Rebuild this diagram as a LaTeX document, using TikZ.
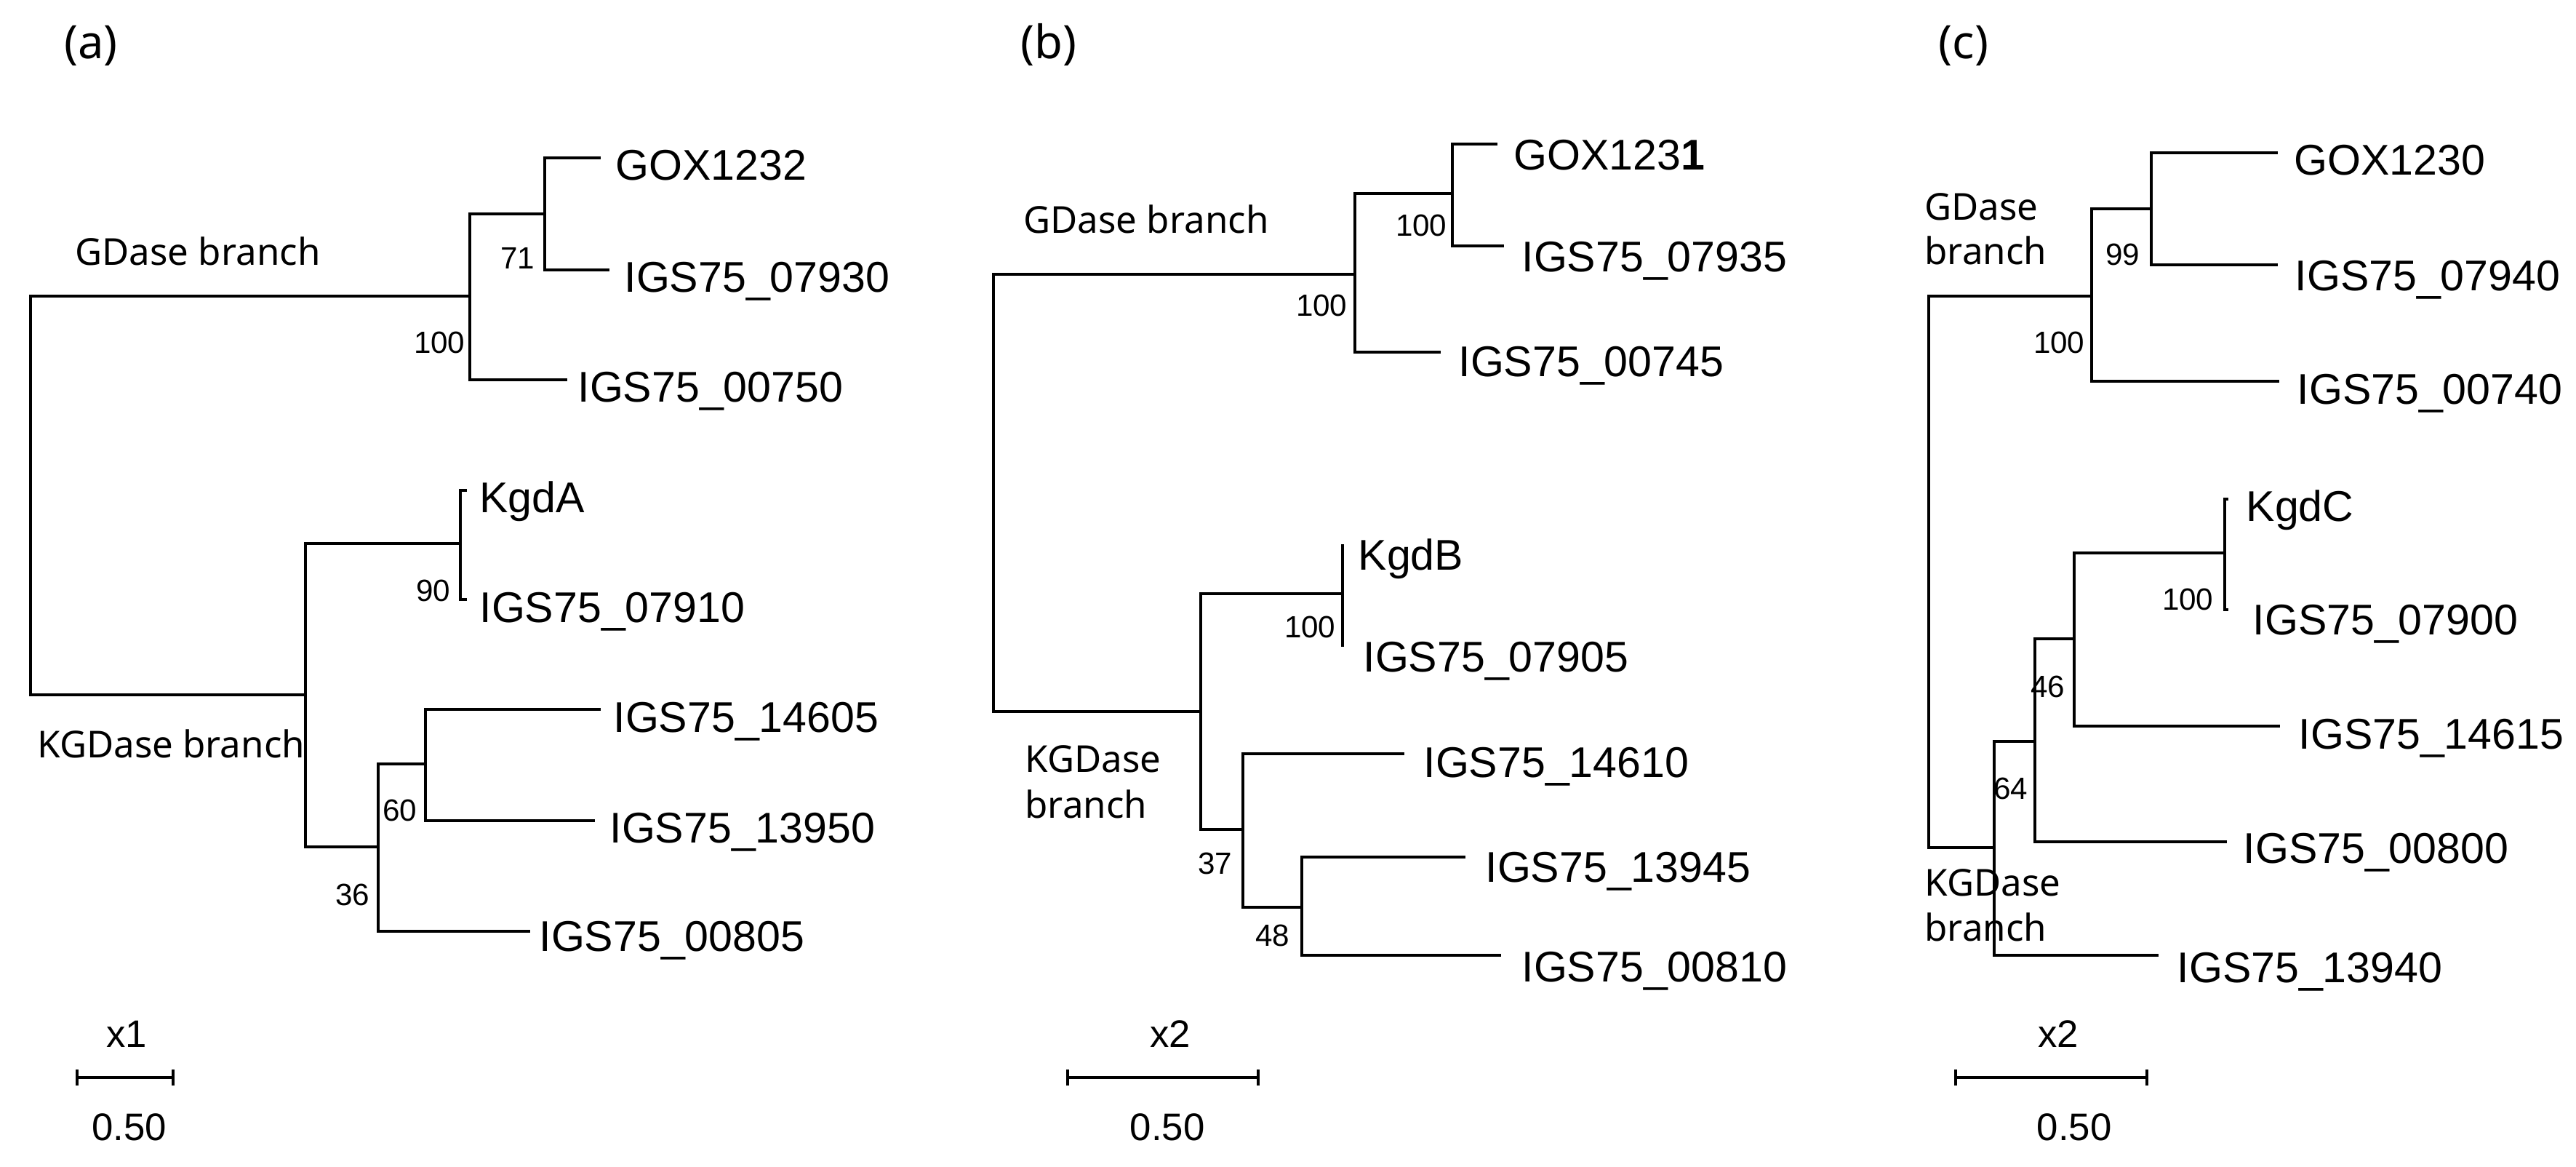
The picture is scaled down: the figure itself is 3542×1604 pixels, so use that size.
\documentclass[tikz,border=0pt]{standalone}
\usepackage{fontspec}
\setmainfont{Liberation Sans}
\newfontfamily\notof{Noto Sans}
\begin{document}
\begin{tikzpicture}[x=0.01cm,y=-0.01cm,line width=0.9pt,
  leaf/.style={anchor=base west,inner sep=0,font=\fontsize{16.8}{18}\selectfont},
  boot/.style={anchor=base east,inner sep=0,font=\fontsize{12}{14}\selectfont},
  br/.style={anchor=base west,inner sep=0,font=\notof\fontsize{14.5}{16}\selectfont},
  sc/.style={anchor=base,inner sep=0,font=\fontsize{15}{17}\selectfont},
  pl/.style={inner sep=0,font=\notof\fontsize{18}{20}\selectfont}]
\useasboundingbox (0,0) rectangle (3542,1604);
% ===== (a)
\node[pl] (la) at (125,63) {(a)};
\coordinate (aR) at (42,681);
\coordinate (aG) at (646,407); \coordinate (aK) at (420,955);
\coordinate (aG1) at (749,294);
\coordinate (aT1) at (826,217); \coordinate (aT2) at (838,371); \coordinate (aT3) at (780,522);
\coordinate (aK1) at (633,747); \coordinate (aK2) at (520,1164); \coordinate (aK3) at (585,1050);
\coordinate (aT4) at (642,674); \coordinate (aT5) at (642,824);
\coordinate (aT6) at (826,975); \coordinate (aT7) at (818,1128); \coordinate (aT8) at (729,1280);
\draw (aR) |- (aG); \draw (aR) |- (aK);
\draw (aG) |- (aG1); \draw (aG) |- (aT3);
\draw (aG1) |- (aT1); \draw (aG1) |- (aT2);
\draw (aK) |- (aK1); \draw (aK) |- (aK2);
\draw (aK1) |- (aT4); \draw (aK1) |- (aT5);
\draw (aK2) |- (aK3); \draw (aK2) |- (aT8);
\draw (aK3) |- (aT6); \draw (aK3) |- (aT7);
\node[leaf] (aL1) at (845,248) {GOX1232};
\node[leaf] (aL2) at (857,402) {IGS75\_07930};
\node[leaf] (aL3) at (793,553) {IGS75\_00750};
\node[leaf] (aL4) at (658,705) {KgdA};
\node[leaf] (aL5) at (658,856) {IGS75\_07910};
\node[leaf] (aL6) at (842,1007) {IGS75\_14605};
\node[leaf] (aL7) at (837,1158) {IGS75\_13950};
\node[leaf] (aL8) at (740,1307) {IGS75\_00805};
\node[boot] (aB1) at (737,370) {71};
\node[boot] (aB2) at (641,486) {100};
\node[boot] (aB3) at (621,827) {90};
\node[boot] (aB4) at (575,1129) {60};
\node[boot] (aB5) at (510,1244) {36};
\node[br] (aBr1) at (102,365) {GDase branch};
\node[br] (aBr2) at (50,1042) {KGDase branch};
\node[sc] (aX) at (174,1439) {x1};
\coordinate (aS1) at (106,1481); \coordinate (aS2) at (238,1481);
\draw (aS1) -- (aS2);
\draw ([yshift=-0.11cm]aS1) -- ([yshift=0.11cm]aS1);
\draw ([yshift=-0.11cm]aS2) -- ([yshift=0.11cm]aS2);
\node[sc] (aV) at (178,1567) {0.50};
% ===== (b)
\node[pl] (lb) at (1442,61) {(b)};
\coordinate (bR) at (1366,677);
\coordinate (bG) at (1863,377); \coordinate (bK) at (1651,978);
\coordinate (bG1) at (1997,266);
\coordinate (bT1) at (2059,198); \coordinate (bT2) at (2068,338); \coordinate (bT3) at (1981,484);
\coordinate (bK1) at (1846,816); \coordinate (bK2) at (1709,1140); \coordinate (bK3) at (1790,1247);
\coordinate (bT4) at (1846,748); \coordinate (bT5) at (1846,889);
\coordinate (bT6) at (1931,1036); \coordinate (bT7) at (2015,1178); \coordinate (bT8) at (2064,1313);
\draw (bR) |- (bG); \draw (bR) |- (bK);
\draw (bG) |- (bG1); \draw (bG) |- (bT3);
\draw (bG1) |- (bT1); \draw (bG1) |- (bT2);
\draw (bK) |- (bK1); \draw (bK) |- (bK2);
\draw (bK1) -- (bT4); \draw (bK1) -- (bT5);
\draw (bK2) |- (bT6); \draw (bK2) |- (bK3);
\draw (bK3) |- (bT7); \draw (bK3) |- (bT8);
\node[leaf] (bL1) at (2080,234) {GOX123\textbf{1}};
\node[leaf] (bL2) at (2091,374) {IGS75\_07935};
\node[leaf] (bL3) at (2004,518) {IGS75\_00745};
\node[leaf] (bL4) at (1866,784) {KgdB};
\node[leaf] (bL5) at (1873,924) {IGS75\_07905};
\node[leaf] (bL6) at (1956,1068) {IGS75\_14610};
\node[leaf] (bL7) at (2041,1212) {IGS75\_13945};
\node[leaf] (bL8) at (2091,1349) {IGS75\_00810};
\node[boot] (bB1) at (1991,325) {100};
\node[boot] (bB2) at (1854,435) {100};
\node[boot] (bB3) at (1838,877) {100};
\node[boot] (bB4) at (1696,1201) {37};
\node[boot] (bB5) at (1775,1300) {48};
\node[br] (bBr1) at (1406,321) {GDase branch};
\node[br] (bBr2) at (1408,1062) {KGDase};
\node[br] (bBr3) at (1408,1124) {branch};
\node[sc] (bX) at (1609,1439) {x2};
\coordinate (bS1) at (1468,1481); \coordinate (bS2) at (1730,1481);
\draw (bS1) -- (bS2);
\draw ([yshift=-0.11cm]bS1) -- ([yshift=0.11cm]bS1);
\draw ([yshift=-0.11cm]bS2) -- ([yshift=0.11cm]bS2);
\node[sc] (bV) at (1605,1567) {0.50};
% ===== (c)
\node[pl] (lc) at (2700,63) {(c)};
\coordinate (cR) at (2652,786);
\coordinate (cG) at (2876,407); \coordinate (cK) at (2742,1165);
\coordinate (cG1) at (2958,287);
\coordinate (cT1) at (3132,210); \coordinate (cT2) at (3132,364); \coordinate (cT3) at (3134,524);
\coordinate (cK1) at (2798,1019); \coordinate (cK2) at (2852,878); \coordinate (cK3) at (3059,760);
\coordinate (cT4) at (3064,686); \coordinate (cT5) at (3064,838);
\coordinate (cT6) at (3135,998); \coordinate (cT7) at (3062,1157); \coordinate (cT8) at (2968,1313);
\draw (cR) |- (cG); \draw (cR) |- (cK);
\draw (cG) |- (cG1); \draw (cG) |- (cT3);
\draw (cG1) |- (cT1); \draw (cG1) |- (cT2);
\draw (cK) |- (cK1); \draw (cK) |- (cT8);
\draw (cK1) |- (cK2); \draw (cK1) |- (cT7);
\draw (cK2) |- (cK3); \draw (cK2) |- (cT6);
\draw (cK3) |- (cT4); \draw (cK3) |- (cT5);
\node[leaf] (cL1) at (3153,241) {GOX1230};
\node[leaf] (cL2) at (3154,400) {IGS75\_07940};
\node[leaf] (cL3) at (3157,556) {IGS75\_00740};
\node[leaf] (cL4) at (3087,717) {KgdC};
\node[leaf] (cL5) at (3096,873) {IGS75\_07900};
\node[leaf] (cL6) at (3159,1030) {IGS75\_14615};
\node[leaf] (cL7) at (3083,1186) {IGS75\_00800};
\node[leaf] (cL8) at (2992,1350) {IGS75\_13940};
\node[boot] (cB1) at (2944,365) {99};
\node[boot] (cB2) at (2868,486) {100};
\node[boot] (cB3) at (3045,839) {100};
\node[boot] (cB4) at (2841,959) {46};
\node[boot] (cB5) at (2790,1098) {64};
\node[br] (cBr1) at (2645,303) {GDase};
\node[br] (cBr2) at (2645,364) {branch};
\node[br] (cBr3) at (2645,1231) {KGDase};
\node[br] (cBr4) at (2645,1293) {branch};
\node[sc] (cX) at (2830,1439) {x2};
\coordinate (cS1) at (2689,1481); \coordinate (cS2) at (2952,1481);
\draw (cS1) -- (cS2);
\draw ([yshift=-0.11cm]cS1) -- ([yshift=0.11cm]cS1);
\draw ([yshift=-0.11cm]cS2) -- ([yshift=0.11cm]cS2);
\node[sc] (cV) at (2852,1567) {0.50};
\end{tikzpicture}
\end{document}
